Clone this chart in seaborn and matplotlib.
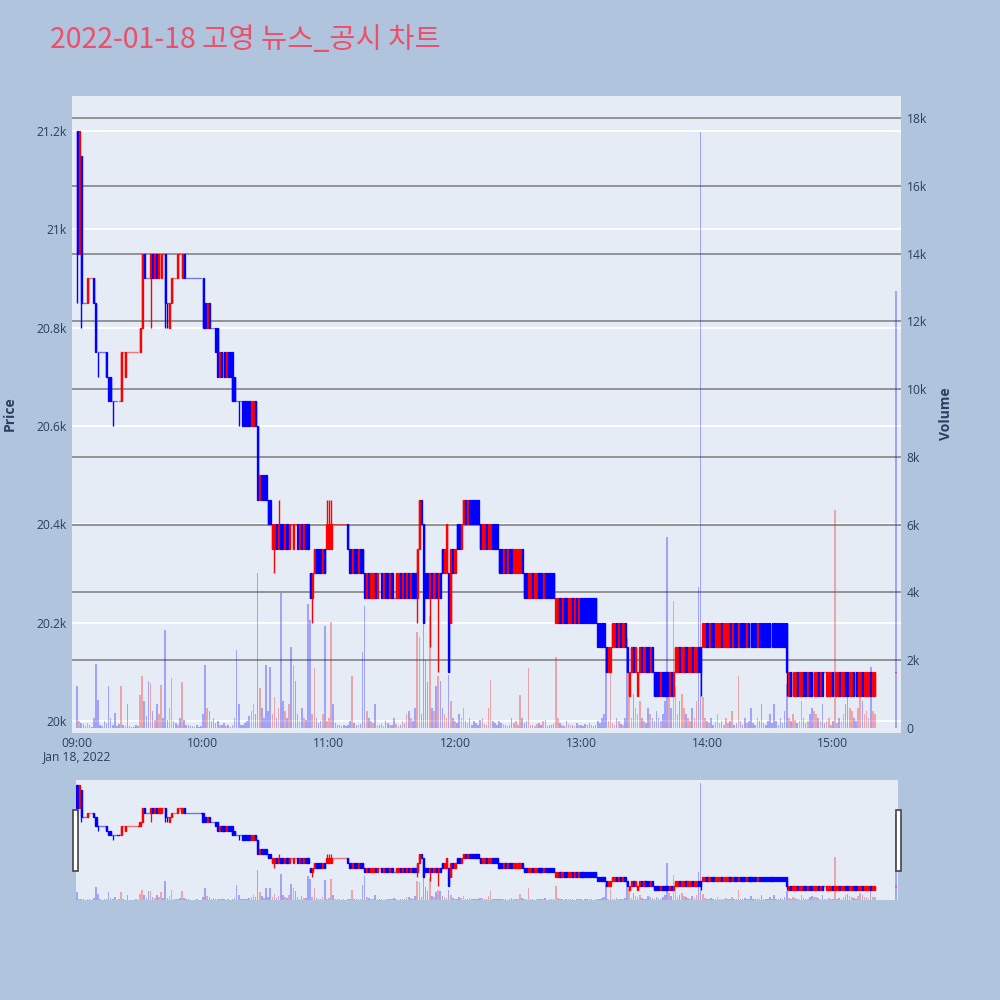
import matplotlib
matplotlib.use("Agg")
import matplotlib.pyplot as plt
from matplotlib.transforms import blended_transform_factory
from matplotlib.patches import Rectangle
import seaborn as sns
import numpy as np
import pandas as pd

title_text = "2022-01-18 고영 뉴스_공시 차트"
date_label = "Jan 18, 2022"

# minute offsets from 09:00
minutes = list(range(381)) + [390]

open_p = [
    21200, 20950, 21150, 20850, 20850, 20850, 20900, 20900, 20900, 20850,
    20750, 20750, 20750, 20750, 20750, 20700, 20700, 20650, 20650, 20650,
    20650, 20650, 20750, 20700, 20750, 20750, 20750, 20750, 20750, 20750,
    20750, 20800, 20950, 20900, 20900, 20900, 20950, 20900, 20950, 20900,
    20900, 20950, 20950, 20850, 20800, 20850, 20900, 20900, 20900, 20950,
    20900, 20950, 20900, 20900, 20900, 20900, 20900, 20900, 20900, 20900,
    20900, 20850, 20800, 20850, 20800, 20800, 20800, 20800, 20700, 20750,
    20750, 20700, 20750, 20750, 20750, 20700, 20650, 20650, 20650, 20650,
    20650, 20650, 20650, 20600, 20600, 20650, 20600, 20450, 20500, 20500,
    20500, 20450, 20450, 20350, 20350, 20400, 20350, 20400, 20400, 20350,
    20400, 20350, 20400, 20350, 20400, 20400, 20350, 20400, 20350, 20400,
    20400, 20300, 20250, 20300, 20350, 20350, 20350, 20300, 20350, 20350,
    20350, 20350, 20400, 20400, 20400, 20400, 20400, 20400, 20400, 20400,
    20350, 20300, 20350, 20350, 20300, 20350, 20350, 20300, 20250, 20300,
    20250, 20250, 20300, 20250, 20300, 20300, 20250, 20300, 20300, 20250,
    20300, 20250, 20250, 20250, 20300, 20250, 20300, 20250, 20300, 20250,
    20300, 20300, 20250, 20350, 20450, 20400, 20300, 20300, 20250, 20300,
    20250, 20300, 20250, 20300, 20350, 20300, 20300, 20300, 20200, 20350,
    20300, 20400, 20400, 20350, 20400, 20450, 20400, 20450, 20450, 20450,
    20450, 20450, 20400, 20350, 20350, 20400, 20350, 20350, 20400, 20400,
    20400, 20350, 20350, 20300, 20350, 20300, 20350, 20350, 20300, 20300,
    20300, 20300, 20350, 20300, 20300, 20250, 20250, 20300, 20250, 20250,
    20300, 20300, 20250, 20300, 20300, 20300, 20300, 20300, 20200, 20200,
    20250, 20200, 20250, 20250, 20200, 20200, 20250, 20200, 20250, 20200,
    20250, 20250, 20250, 20250, 20250, 20250, 20250, 20250, 20200, 20200,
    20200, 20200, 20150, 20100, 20100, 20150, 20150, 20200, 20150, 20200,
    20150, 20200, 20150, 20050, 20100, 20150, 20100, 20050, 20100, 20150,
    20100, 20150, 20150, 20100, 20150, 20100, 20100, 20100, 20050, 20100,
    20100, 20100, 20050, 20100, 20050, 20100, 20100, 20150, 20100, 20100,
    20150, 20100, 20100, 20150, 20100, 20100, 20150, 20150, 20150, 20150,
    20200, 20150, 20200, 20200, 20150, 20150, 20150, 20200, 20150, 20150,
    20150, 20200, 20150, 20200, 20200, 20150, 20200, 20200, 20200, 20150,
    20200, 20200, 20200, 20200, 20150, 20200, 20200, 20200, 20200, 20200,
    20200, 20200, 20200, 20200, 20200, 20200, 20200, 20200, 20200, 20050,
    20100, 20050, 20050, 20100, 20050, 20050, 20100, 20100, 20050, 20100,
    20100, 20050, 20050, 20100, 20050, 20100, 20100, 20050, 20050, 20050,
    20100, 20050, 20050, 20100, 20050, 20050, 20100, 20100, 20050, 20050,
    20100, 20100, 20050, 20050, 20100, 20050, 20050, 20050, 20100, 20050,
    20050, 20100,
]

close_p = [
    20950, 21200, 20850, 20850, 20850, 20900, 20900, 20900, 20850, 20750,
    20750, 20750, 20750, 20750, 20700, 20650, 20650, 20650, 20650, 20650,
    20650, 20750, 20750, 20750, 20750, 20750, 20750, 20750, 20750, 20750,
    20800, 20950, 20900, 20900, 20900, 20950, 20900, 20950, 20900, 20950,
    20950, 20950, 20850, 20850, 20850, 20900, 20900, 20900, 20950, 20950,
    20950, 20900, 20900, 20900, 20900, 20900, 20900, 20900, 20900, 20900,
    20800, 20800, 20850, 20800, 20800, 20800, 20750, 20700, 20750, 20700,
    20700, 20750, 20700, 20700, 20650, 20650, 20650, 20650, 20650, 20600,
    20600, 20600, 20600, 20650, 20650, 20600, 20450, 20500, 20450, 20450,
    20450, 20400, 20400, 20400, 20400, 20350, 20400, 20350, 20350, 20400,
    20350, 20400, 20400, 20400, 20400, 20350, 20400, 20350, 20400, 20350,
    20350, 20250, 20300, 20350, 20300, 20300, 20300, 20350, 20300, 20400,
    20400, 20400, 20400, 20400, 20400, 20400, 20400, 20400, 20400, 20350,
    20300, 20350, 20300, 20300, 20350, 20300, 20300, 20250, 20300, 20250,
    20300, 20300, 20250, 20300, 20300, 20250, 20300, 20250, 20250, 20300,
    20250, 20250, 20300, 20300, 20250, 20300, 20250, 20300, 20250, 20300,
    20250, 20250, 20350, 20450, 20400, 20200, 20250, 20250, 20300, 20250,
    20300, 20250, 20300, 20250, 20300, 20350, 20400, 20100, 20350, 20300,
    20350, 20350, 20350, 20400, 20450, 20400, 20450, 20400, 20400, 20400,
    20400, 20400, 20350, 20400, 20400, 20350, 20400, 20400, 20350, 20350,
    20350, 20300, 20300, 20350, 20300, 20350, 20300, 20300, 20350, 20350,
    20350, 20350, 20300, 20250, 20250, 20300, 20300, 20250, 20300, 20300,
    20250, 20250, 20300, 20250, 20250, 20250, 20250, 20250, 20250, 20250,
    20200, 20250, 20200, 20200, 20250, 20250, 20200, 20250, 20200, 20250,
    20200, 20200, 20200, 20200, 20200, 20200, 20200, 20200, 20150, 20150,
    20150, 20150, 20100, 20150, 20150, 20200, 20200, 20150, 20200, 20150,
    20200, 20150, 20100, 20100, 20150, 20100, 20150, 20100, 20150, 20100,
    20150, 20100, 20100, 20150, 20100, 20050, 20050, 20050, 20100, 20050,
    20050, 20050, 20100, 20050, 20100, 20150, 20150, 20100, 20150, 20150,
    20100, 20150, 20150, 20100, 20150, 20150, 20100, 20100, 20200, 20200,
    20150, 20200, 20150, 20150, 20200, 20200, 20200, 20150, 20200, 20200,
    20200, 20150, 20200, 20150, 20150, 20200, 20150, 20150, 20150, 20200,
    20150, 20150, 20150, 20150, 20200, 20150, 20150, 20150, 20150, 20150,
    20150, 20150, 20150, 20150, 20150, 20150, 20150, 20150, 20100, 20100,
    20050, 20100, 20100, 20050, 20100, 20100, 20050, 20050, 20100, 20050,
    20050, 20100, 20100, 20050, 20100, 20050, 20100, 20100, 20100, 20100,
    20050, 20100, 20100, 20050, 20100, 20100, 20050, 20050, 20100, 20100,
    20050, 20050, 20100, 20100, 20050, 20100, 20100, 20100, 20050, 20100,
    20100, 20100,
]

# wick extremes beyond the candle body (minute -> price)
wick_high = {96: 20450, 119: 20450, 120: 20450, 121: 20450}
wick_low = {0: 20850, 2: 20800, 10: 20700, 17: 20600, 35: 20800, 42: 20800,
            43: 20800, 77: 20600, 94: 20300, 112: 20200, 162: 20200,
            168: 20150, 172: 20100, 297: 20050, 338: 20050}

volume = [
    1240, 200, 150, 120, 60, 150, 90, 40, 300, 1890,
    830, 100, 60, 200, 150, 1240, 300, 80, 450, 60,
    120, 1240, 80, 60, 700, 50, 40, 30, 100, 60,
    970, 1530, 800, 350, 1400, 1330, 500, 250, 700, 400,
    1270, 300, 2890, 250, 600, 1480, 200, 150, 100, 300,
    1360, 250, 100, 80, 50, 60, 40, 100, 30, 60,
    400, 1860, 600, 500, 200, 300, 150, 200, 100, 80,
    150, 60, 80, 40, 100, 300, 2300, 700, 100, 80,
    150, 200, 350, 500, 700, 400, 4570, 1180, 600, 300,
    1860, 500, 1800, 400, 900, 300, 600, 3980, 800, 500,
    300, 700, 2390, 1860, 1400, 400, 200, 600, 300, 250,
    3660, 3190, 400, 1770, 300, 150, 200, 400, 3010, 200,
    300, 3130, 700, 150, 100, 80, 60, 100, 50, 80,
    200, 1530, 150, 100, 80, 120, 2240, 3600, 500, 300,
    200, 150, 700, 100, 80, 120, 60, 200, 150, 100,
    80, 300, 120, 60, 100, 200, 150, 400, 500, 300,
    200, 600, 2830, 2690, 400, 3660, 2010, 1360, 3300, 600,
    500, 1240, 1530, 1400, 600, 400, 300, 1560, 800, 300,
    200, 150, 400, 300, 600, 200, 150, 300, 100, 200,
    150, 100, 250, 300, 120, 80, 600, 1420, 200, 150,
    100, 200, 150, 120, 80, 60, 100, 300, 150, 200,
    100, 970, 300, 150, 200, 1770, 100, 80, 60, 120,
    150, 100, 200, 250, 60, 80, 100, 120, 2100, 300,
    150, 100, 60, 200, 120, 80, 100, 60, 150, 100,
    80, 60, 120, 100, 150, 80, 60, 100, 200, 150,
    300, 400, 2360, 200, 1620, 150, 100, 300, 200, 120,
    100, 300, 2650, 1620, 300, 1000, 600, 400, 800, 300,
    200, 150, 600, 400, 300, 200, 500, 300, 200, 400,
    800, 5640, 1000, 600, 3750, 1200, 400, 800, 1000, 600,
    400, 300, 200, 600, 300, 800, 4160, 17600, 900, 300,
    200, 150, 300, 100, 200, 400, 150, 200, 100, 300,
    150, 200, 500, 100, 150, 1530, 200, 100, 300, 150,
    200, 600, 150, 100, 300, 200, 700, 150, 100, 200,
    400, 150, 700, 200, 100, 300, 150, 500, 1300, 300,
    200, 400, 250, 150, 200, 800, 300, 150, 200, 400,
    600, 500, 400, 300, 200, 700, 150, 200, 300, 100,
    200, 6430, 150, 300, 200, 400, 700, 900, 600, 500,
    300, 200, 600, 1000, 800, 400, 500, 300, 1800, 500,
    400, 12900,
]

price_ticks = [20000, 20200, 20400, 20600, 20800, 21000, 21200]
price_tick_labels = ["20k", "20.2k", "20.4k", "20.6k", "20.8k", "21k", "21.2k"]
vol_ticks = [0, 2000, 4000, 6000, 8000, 10000, 12000, 14000, 16000, 18000]
vol_tick_labels = ["0", "2k", "4k", "6k", "8k", "10k", "12k", "14k", "16k", "18k"]
time_ticks = [0, 60, 120, 180, 240, 300, 360]
time_tick_labels = ["09:00", "10:00", "11:00", "12:00", "13:00", "14:00", "15:00"]

# ---------------------------------------------------------------- styling
sns.set_theme(style="white")
plt.rcParams["font.family"] = ["Open Sans", "Noto Sans CJK KR", "DejaVu Sans"]

BG = "#B0C4DE"
PLOT_BG = "#E5ECF6"
UP = "#FF0000"
DOWN = "#0000FF"
TXT = "#2a3f5f"

df = pd.DataFrame({"minute": minutes, "open": open_p, "close": close_p, "volume": volume})
df["high"] = [max(o, c, wick_high.get(m, 0)) for m, o, c in zip(minutes, open_p, close_p)]
df["low"] = [min(o, c, wick_low.get(m, 10 ** 9)) for m, o, c in zip(minutes, open_p, close_p)]
# candle direction (doji keeps previous direction)
dirs = []
prev = "up"
for o, c in zip(open_p, close_p):
    if c > o:
        prev = "up"
    elif c < o:
        prev = "down"
    dirs.append(prev)
df["dir"] = dirs
df["vdir"] = ["up" if c > o else "down" for o, c in zip(open_p, close_p)]
df["color"] = df["dir"].map({"up": UP, "down": DOWN})

fig = plt.figure(figsize=(10, 10), dpi=100, facecolor=BG)


def draw(rect, pylim, vylim, body_w, wick_lw, edge_lw, vol_alpha, main):
    ax_v = fig.add_axes(rect)
    ax_v.set_facecolor(PLOT_BG)
    ax_p = fig.add_axes(rect, sharex=ax_v)
    ax_p.patch.set_visible(False)
    ax_p.set_zorder(ax_v.get_zorder() + 1)
    ax_p.set_ylim(*pylim)
    ax_v.set_ylim(*vylim)

    if main:
        # price gridlines (white) drawn lowest
        tr = blended_transform_factory(ax_v.transAxes, ax_p.transData)
        for p in price_ticks:
            ax_v.plot([0, 1], [p, p], transform=tr, color="white", lw=1.3, zorder=0.3)
        for v in vol_ticks[1:]:
            ax_v.axhline(v, color="#8c8c8c", lw=1.3, zorder=0.5)

    # volume bars via seaborn
    sns.histplot(data=df, x="minute", weights="volume", hue="vdir", discrete=True,
                 shrink=0.75, palette={"up": UP, "down": DOWN}, alpha=vol_alpha,
                 linewidth=0, legend=False, ax=ax_v, zorder=1)
    ax_v.set_ylim(*vylim)

    # candles
    ax_p.vlines(df["minute"], df["low"], df["high"], colors=df["color"], lw=wick_lw, zorder=3)
    bottoms = np.minimum(df["open"], df["close"])
    heights = np.abs(df["close"] - df["open"])
    ax_p.bar(df["minute"], heights, bottom=bottoms, width=body_w, color=df["color"],
             edgecolor=df["color"], linewidth=edge_lw, zorder=4)

    for a in (ax_v, ax_p):
        for s in a.spines.values():
            s.set_visible(False)
        a.set_xlabel("")
        a.set_ylabel("")
        a.grid(False)
    return ax_v, ax_p


# ---------------------------------------------------------------- main chart
ax_v, ax_p = draw([0.072, 0.267, 0.829, 0.637], (19975.6, 21271), (-148, 18650),
                  0.5, 1.0, 0.95, 0.3, True)
ax_v.set_xlim(-2.4, 392.4)
ax_p.yaxis.tick_left()
ax_p.set_yticks(price_ticks)
ax_p.set_yticklabels(price_tick_labels)
ax_v.yaxis.tick_right()
ax_v.set_yticks(vol_ticks)
ax_v.set_yticklabels(vol_tick_labels)
ax_p.tick_params(axis="y", length=0, pad=4, labelsize=8.7, labelcolor=TXT)
ax_v.tick_params(axis="y", length=0, pad=4, labelsize=8.7, labelcolor=TXT)
ax_p.set_xticks(time_ticks)
ax_p.set_xticklabels(time_tick_labels)
ax_p.tick_params(axis="x", length=0, pad=3, labelsize=8.7, labelcolor=TXT)
ax_v.tick_params(axis="x", bottom=False, labelbottom=False)

fig.text(0.077, 0.243, date_label, ha="center", va="center", fontsize=8.7, color=TXT)
fig.text(0.010, 0.586, "Price", rotation=90, ha="center", va="center",
         fontsize=10, fontweight="bold", color=TXT)
fig.text(0.946, 0.586, "Volume", rotation=90, ha="center", va="center",
         fontsize=10, fontweight="bold", color=TXT)

# ---------------------------------------------------------------- range slider
rs_v, rs_p = draw([0.076, 0.100, 0.822, 0.120], (19946, 21255), (0, 18100),
                  0.55, 0.9, 1.0, 0.3, False)
rs_v.set_xlim(-0.5, 391)
for a in (rs_v, rs_p):
    a.set_xticks([])
    a.set_yticks([])
for hx in (0.0733, 0.8962):
    fig.patches.append(Rectangle((hx, 0.129), 0.0045, 0.061, transform=fig.transFigure,
                                 facecolor="white", edgecolor="#444444", lw=1.2, zorder=10))

# ---------------------------------------------------------------- title
fig.text(0.050, 0.960, title_text, ha="left", va="center", fontsize=20.5,
         color="#EB5068", family=["Noto Sans CJK KR", "DejaVu Sans"])

fig.savefig("out.png", dpi=100, facecolor=BG)
